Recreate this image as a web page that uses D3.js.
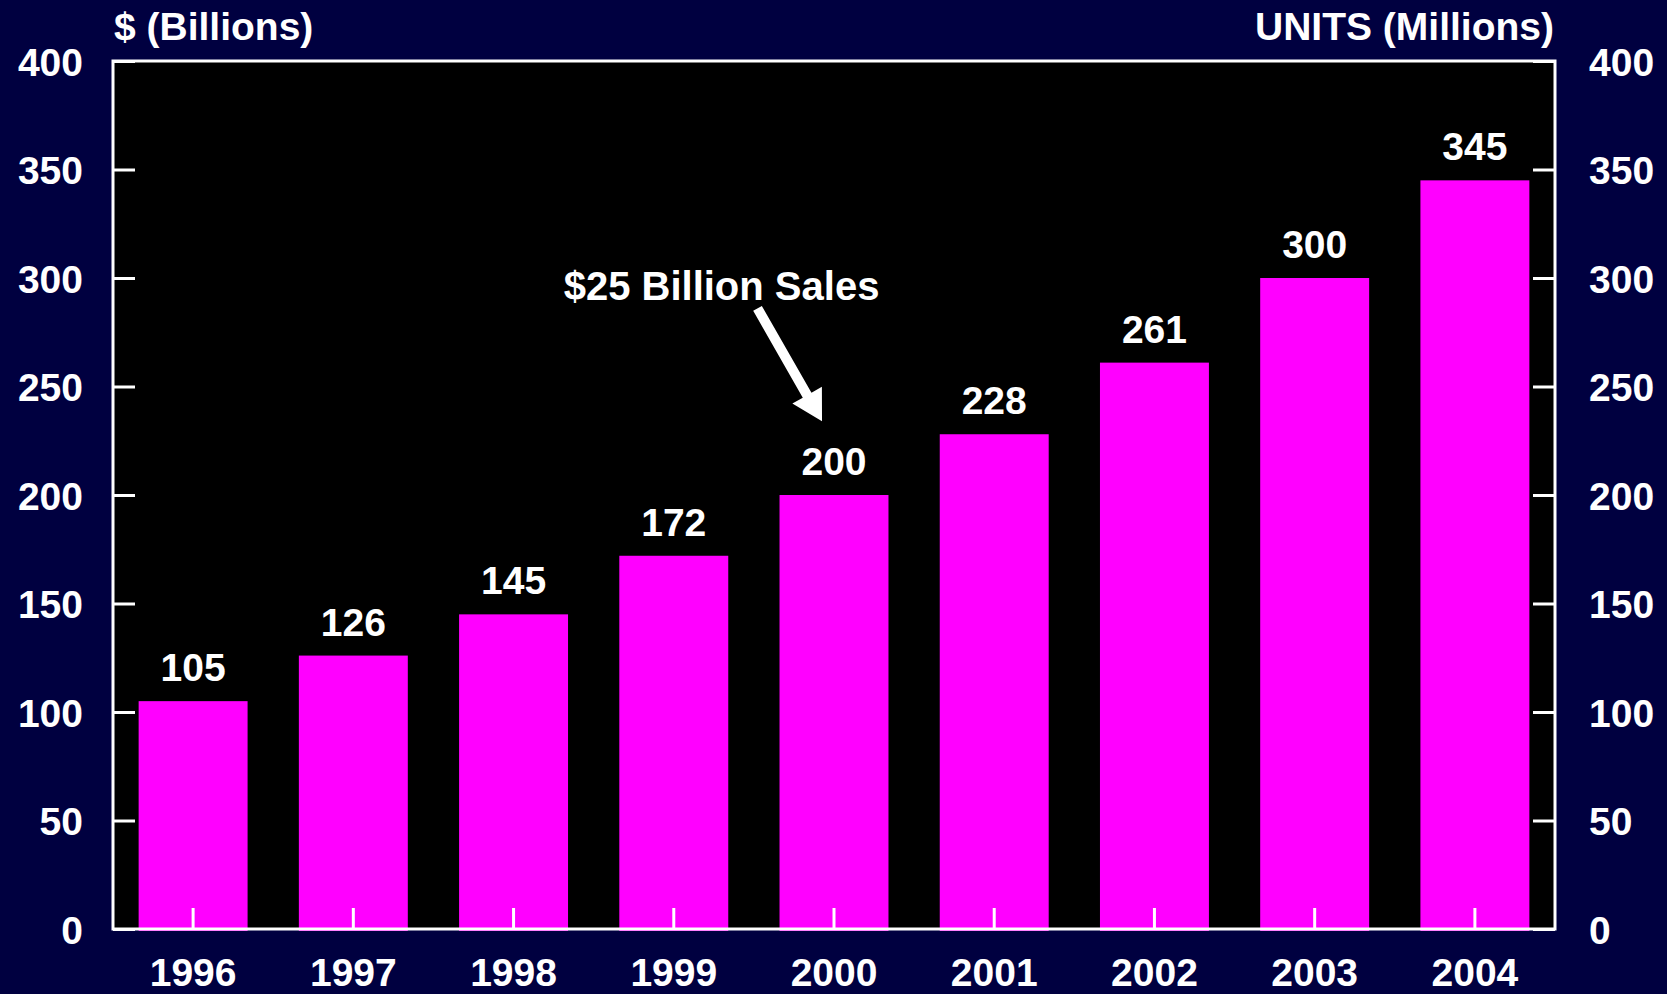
<!DOCTYPE html>
<html>
<head>
<meta charset="utf-8">
<script src="https://cdn.jsdelivr.net/npm/d3@7"></script>
<style>
  html, body { margin: 0; padding: 0; background: #000040; }
  svg { display: block; }
  text { font-family: "Liberation Sans", Arial, sans-serif; font-weight: bold; fill: #ffffff; }
</style>
</head>
<body>
<svg id="chart" width="1667" height="994"></svg>
<script>
const years = ["1996", "1997", "1998", "1999", "2000", "2001", "2002", "2003", "2004"];
const units = [105, 126, 145, 172, 200, 228, 261, 300, 345];
const yTicks = [0, 50, 100, 150, 200, 250, 300, 350, 400];
const leftTitle = "$ (Billions)";
const rightTitle = "UNITS (Millions)";
const noteText = "$25 Billion Sales";
const noteYear = "2000";
const noteTextValue = 290;
const noteTailValue = 286;
const noteTipValue = 234;

const W = 1667, H = 994;
const m = { left: 113, right: 112, top: 61, bottom: 65 };
const pw = W - m.left - m.right, ph = H - m.top - m.bottom;

const svg = d3.select("#chart");
svg.append("rect").attr("width", W).attr("height", H).attr("fill", "#000040");

const g = svg.append("g").attr("transform", `translate(${m.left},${m.top})`);

const x = d3.scaleBand().domain(years).range([0, pw]).paddingInner(0.32).paddingOuter(0.16);
const y = d3.scaleLinear().domain([0, 400]).range([ph, 0]);

g.append("rect").attr("width", pw).attr("height", ph).attr("fill", "#000000");

// bars
g.selectAll("rect.bar").data(units).enter().append("rect")
  .attr("class", "bar")
  .attr("x", (d, i) => x(years[i]))
  .attr("y", d => y(d))
  .attr("width", x.bandwidth())
  .attr("height", d => ph - y(d) + 2)
  .attr("fill", "#ff00ff");

// value labels
g.selectAll("text.val").data(units).enter().append("text")
  .attr("class", "val")
  .attr("x", (d, i) => x(years[i]) + x.bandwidth() / 2)
  .attr("y", d => y(d) - 20)
  .attr("text-anchor", "middle")
  .style("font-size", "39px")
  .text(d => d);

// axes (ticks inside, labels outside)
const leftAxis = d3.axisLeft(y).tickValues(yTicks).tickSize(-22).tickPadding(30);
const la = g.append("g").call(leftAxis);
const rightAxis = d3.axisRight(y).tickValues(yTicks).tickSize(-22).tickPadding(34);
const ra = g.append("g").attr("transform", `translate(${pw},0)`).call(rightAxis);
const bottomAxis = d3.axisBottom(x).tickSize(-21).tickPadding(33);
const ba = g.append("g").attr("transform", `translate(0,${ph})`).call(bottomAxis);

[la, ra, ba].forEach(a => {
  a.select(".domain").remove();
  a.selectAll(".tick line").attr("stroke", "#ffffff").attr("stroke-width", 3);
  a.selectAll(".tick text").attr("fill", "#ffffff")
    .style("font-family", '"Liberation Sans", Arial, sans-serif')
    .style("font-weight", "bold").style("font-size", "39px");
});
la.selectAll(".tick text").attr("dy", "0.36em");
ra.selectAll(".tick text").attr("dy", "0.36em");
ba.selectAll(".tick text").attr("dy", "0.62em");

// frame
g.append("rect").attr("width", pw).attr("height", ph)
  .attr("fill", "none").attr("stroke", "#ffffff").attr("stroke-width", 3);

// titles
svg.append("text").attr("x", m.left + 1).attr("y", 40)
  .style("font-size", "39px").text(leftTitle);
svg.append("text").attr("x", m.left + pw - 1).attr("y", 40)
  .attr("text-anchor", "end").style("font-size", "39px").text(rightTitle);

// annotation
const bx = x(noteYear), bw = x.bandwidth();
g.append("text")
  .attr("x", bx - 58)
  .attr("y", y(noteTextValue))
  .attr("text-anchor", "middle")
  .style("font-size", "40px")
  .text(noteText);

const x0 = bx - 22, y0 = y(noteTailValue);
const x1 = bx + bw * 0.39, y1 = y(noteTipValue);
const ang = Math.atan2(y1 - y0, x1 - x0);
const headLen = 30, headW = 17, shaftW = 5;
const ux = Math.cos(ang), uy = Math.sin(ang);
const px = -uy, py = ux;
const bxh = x1 - ux * headLen, byh = y1 - uy * headLen;
const pts = [
  [x0 + px * shaftW, y0 + py * shaftW],
  [bxh + px * shaftW, byh + py * shaftW],
  [bxh + px * headW, byh + py * headW],
  [x1, y1],
  [bxh - px * headW, byh - py * headW],
  [bxh - px * shaftW, byh - py * shaftW],
  [x0 - px * shaftW, y0 - py * shaftW]
];
g.append("path").attr("d", d3.line()(pts) + "Z").attr("fill", "#ffffff");
</script>
</body>
</html>
